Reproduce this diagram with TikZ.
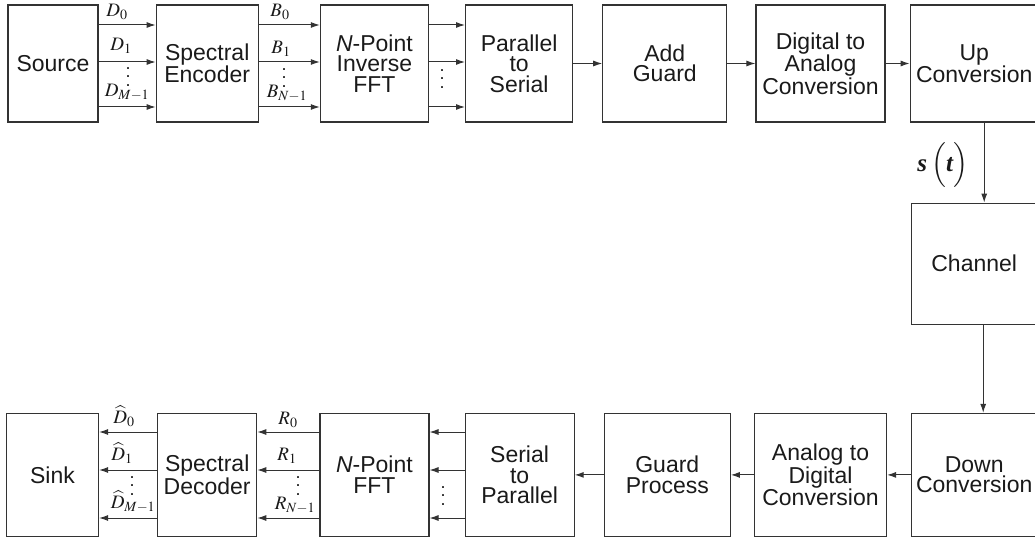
\documentclass[tikz,border=0pt]{standalone}
\usepackage{amsmath}
\usepackage{mathptmx}
\usepackage[no-math]{fontspec}
\setmainfont{Liberation Sans}
\newfontfamily\timesf{Liberation Serif}
\usetikzlibrary{arrows.meta, positioning}
\definecolor{boxline}{HTML}{333333}
\definecolor{inktext}{HTML}{1A1A1A}
\newcommand{\vdts}{\vbox{\baselineskip=8.5pt\lineskiplimit=0pt\hbox{.}\hbox{.}\hbox{.}}}
\tikzset{
  blk/.style={draw=boxline, line width=1.2pt, align=center, inner sep=0pt,
    minimum height=117pt, font=\fontsize{23}{20.5}\selectfont, text=inktext},
  rblk/.style={blk, minimum height=123pt},
  flow/.style={-{Latex[length=9pt,width=6pt]}, draw=boxline, line width=1pt},
  sym/.style={font=\fontsize{19}{19}\selectfont, inner sep=0pt, text=inktext},
  dts/.style={font=\fontsize{18}{18}\selectfont, inner sep=0pt, text=inktext}
}

\begin{document}
\begin{tikzpicture}[x=1pt, y=-1pt]
\useasboundingbox (0,0) rectangle (1035,540);
% transmitter
\node[blk, minimum width=90pt] (src) at (53,63.5) {Source};
\node[blk, minimum width=102pt, right=57pt of src] (enc) {Spectral\\Encoder};
\node[blk, minimum width=108pt, right=61pt of enc] (ifft) {\textit{N}-Point\\Inverse\\FFT};
\node[blk, minimum width=107pt, right=36pt of ifft] (ps) {Parallel\\to\\Serial};
\node[blk, minimum width=124pt, right=29pt of ps] (ag) {Add\\Guard};
\node[blk, minimum width=129pt, right=28pt of ag] (dac) {Digital to\\Analog\\Conversion};
\node[blk, minimum width=128pt, right=24pt of dac] (up) {Up\\Conversion};
% channel
\node[blk, minimum width=126pt, minimum height=121pt, below=80pt of up] (chan) {Channel};
% receiver
\node[rblk, minimum width=125pt, below=88pt of chan] (down) {Down\\Conversion};
\node[rblk, minimum width=132pt, left=24pt of down] (adc) {Analog to\\Digital\\Conversion};
\node[rblk, minimum width=126pt, left=23pt of adc] (gp) {Guard\\Process};
\node[rblk, minimum width=109pt, left=29pt of gp] (sp) {Serial\\to\\Parallel};
\node[rblk, minimum width=109pt, left=35pt of sp] (fft) {\textit{N}-Point\\FFT};
\node[rblk, minimum width=99pt, left=62pt of fft] (dec) {Spectral\\Decoder};
\node[rblk, minimum width=92pt, left=58pt of dec] (sink) {Sink};

% parallel links
\foreach \y in {25,62,107} {
  \draw[flow] (src.east |- 0,\y) -- (enc.west |- 0,\y);
  \draw[flow] (enc.east |- 0,\y) -- (ifft.west |- 0,\y);
  \draw[flow] (ifft.east |- 0,\y) -- (ps.west |- 0,\y);
}
\foreach \y in {432,470,518} {
  \draw[flow] (sp.west |- 0,\y) -- (fft.east |- 0,\y);
  \draw[flow] (fft.west |- 0,\y) -- (dec.east |- 0,\y);
  \draw[flow] (dec.west |- 0,\y) -- (sink.east |- 0,\y);
}
% serial links
\draw[flow] (ps) -- (ag); \draw[flow] (ag) -- (dac); \draw[flow] (dac) -- (up);
\draw[flow] ([xshift=10pt]up.south) -- ([xshift=10pt]chan.north);
\draw[flow] ([xshift=9pt]chan.south) -- ([xshift=9pt]down.north);
\draw[flow] (down) -- (adc); \draw[flow] (adc) -- (gp); \draw[flow] (gp) -- (sp);

% labels
\node[font=\fontsize{25}{24}\selectfont\timesf, text=inktext, inner sep=0pt] (st) at (943,165)
  {\textbf{\textit{s}}\,$\Bigl($\textbf{\textit{t}}$\Bigr)$};
\node[sym] (d0) at (117,12) {$D_0$};
\node[sym] (d1) at (121,46) {$D_1$};
\node[dts] (dd) at (128,77) {\vdts};
\node[sym] (dm) at (127,92) {$D_{M-1}$};
\node[sym] (b0) at (280,12) {$B_0$};
\node[sym] (b1) at (281,49) {$B_1$};
\node[dts] (bd) at (284,78) {\vdts};
\node[sym] (bn) at (287,93) {$B_{N-1}$};
\node[dts] (pd) at (442,79) {\vdts};
\node[sym] (r0) at (288,420) {$R_0$};
\node[sym] (r1) at (287,456) {$R_1$};
\node[dts] (rd) at (298,486) {\vdts};
\node[sym] (rn) at (295,505) {$R_{N-1}$};
\node[sym] (h0) at (124,416) {$\widehat{D}_0$};
\node[sym] (h1) at (122,453) {$\widehat{D}_1$};
\node[dts] (hd) at (132,486) {\vdts};
\node[sym] (hm) at (133,502) {$\widehat{D}_{M-1}$};
\node[dts] (sd) at (443,496) {\vdts};
\end{tikzpicture}
\end{document}
